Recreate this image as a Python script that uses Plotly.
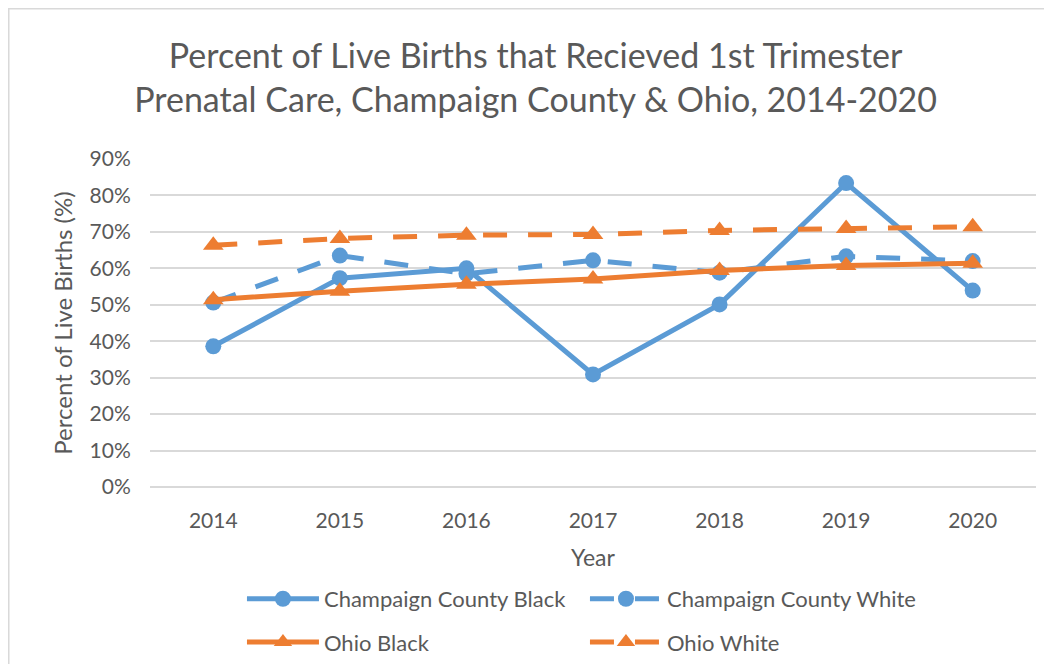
import plotly.graph_objects as go

YEARS = ["2014", "2015", "2016", "2017", "2018", "2019", "2020"]

CHAMPAIGN_BLACK = [38.6, 57.3, 60.0, 30.9, 50.1, 83.4, 53.9]
CHAMPAIGN_WHITE = [50.6, 63.5, 58.5, 62.2, 58.8, 63.3, 62.0]
OHIO_BLACK = [51.4, 53.7, 55.6, 57.1, 59.4, 60.8, 61.4]
OHIO_WHITE = [66.3, 68.2, 69.1, 69.3, 70.4, 70.9, 71.4]

BLUE = "#5B9BD5"
ORANGE = "#ED7D31"
GREY_TXT = "#595959"
GRID = "#D9D9D9"
FONT = "Lato"

DASH = "24px,21px"

fig = go.Figure()
fig.add_trace(go.Scatter(
    x=YEARS, y=CHAMPAIGN_BLACK, name="Champaign County Black", mode="lines+markers",
    line=dict(color=BLUE, width=5), marker=dict(symbol="circle", size=16, color=BLUE),
    legend="legend",
))
fig.add_trace(go.Scatter(
    x=YEARS, y=CHAMPAIGN_WHITE, name="Champaign County White", mode="lines+markers",
    line=dict(color=BLUE, width=5, dash=DASH), marker=dict(symbol="circle", size=16, color=BLUE),
    legend="legend",
))
fig.add_trace(go.Scatter(
    x=YEARS, y=OHIO_BLACK, name="Ohio Black", mode="lines+markers",
    line=dict(color=ORANGE, width=5), marker=dict(symbol="triangle-up", size=18, color=ORANGE),
    legend="legend2",
))
fig.add_trace(go.Scatter(
    x=YEARS, y=OHIO_WHITE, name="Ohio White", mode="lines+markers",
    line=dict(color=ORANGE, width=5, dash=DASH), marker=dict(symbol="triangle-up", size=18, color=ORANGE),
    legend="legend2",
))

# the page body adds an 8px margin, so the plot margins are pulled in by 8
legend_style = dict(
    orientation="h", xref="container", yref="container",
    xanchor="left", yanchor="middle", x=0.2224,
    font=dict(family=FONT, size=22, color=GREY_TXT),
    itemwidth=72, entrywidth=256, entrywidthmode="pixels",
    bgcolor="rgba(0,0,0,0)",
)

fig.update_layout(
    width=1052, height=664,
    paper_bgcolor="white", plot_bgcolor="white",
    margin=dict(l=142, r=24, t=151, b=185, autoexpand=False),
    font=dict(family=FONT, color=GREY_TXT),
    title=dict(
        text="Percent of Live Births that Recieved 1st Trimester<br>Prenatal Care, Champaign County & Ohio, 2014-2020",
        x=0.5015, xanchor="center", y=0.910, yanchor="middle",
        font=dict(family=FONT, size=34, color=GREY_TXT),
    ),
    xaxis=dict(
        type="category", range=[-0.5, 6.5], automargin=False,
        showgrid=False, showline=False, zeroline=False,
        ticks="outside", ticklen=15, tickcolor="rgba(0,0,0,0)",
        tickfont=dict(family=FONT, size=21, color=GREY_TXT),
        title=dict(text="Year", font=dict(family=FONT, size=23, color=GREY_TXT), standoff=18),
    ),
    yaxis=dict(
        range=[0, 90], dtick=10, ticksuffix="%", automargin=False,
        showgrid=True, gridcolor=GRID, gridwidth=1.5,
        zeroline=True, zerolinecolor=GRID, zerolinewidth=1.5,
        ticks="outside", ticklen=14, tickcolor="rgba(0,0,0,0)",
        tickfont=dict(family=FONT, size=21, color=GREY_TXT),
        title=dict(text="Percent of Live Births (%)", font=dict(family=FONT, size=24, color=GREY_TXT), standoff=10),
    ),
    legend=dict(y=0.110, **legend_style),
    legend2=dict(y=0.045, **legend_style),
    shapes=[dict(
        type="rect", xref="paper", yref="paper",
        x0=-0.1594, y0=-0.6, x1=1.05, y1=1.458,
        line=dict(color=GRID, width=1.5), fillcolor="rgba(0,0,0,0)", layer="below",
    )],
)

fig.write_html("out.html")
